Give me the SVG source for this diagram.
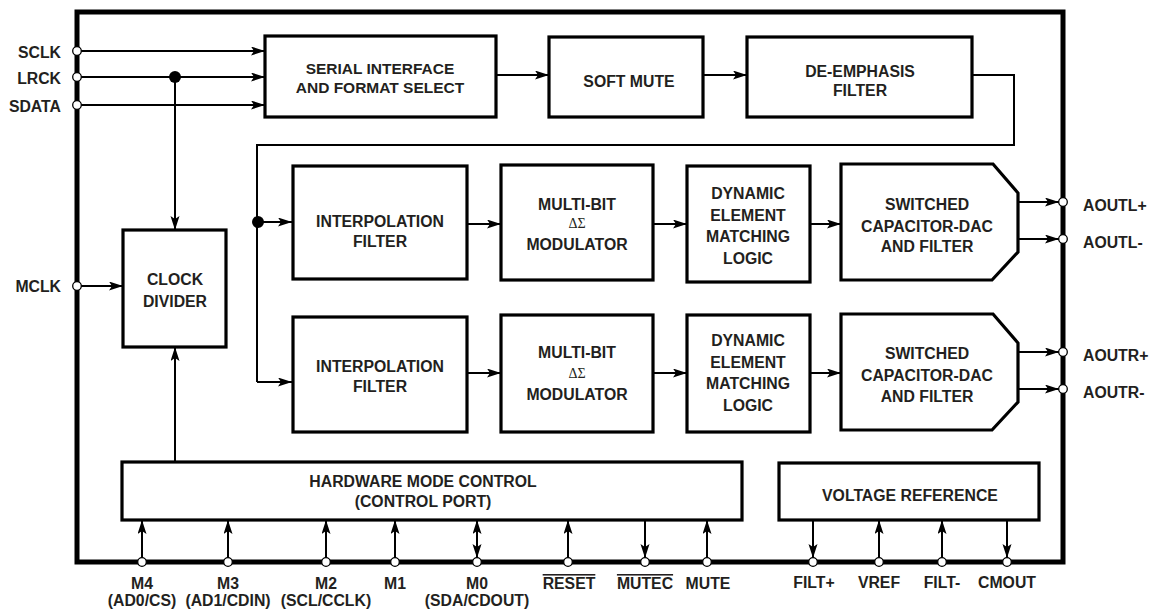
<svg xmlns="http://www.w3.org/2000/svg" width="1150" height="609" viewBox="0 0 1150 609">
<style>
text{font-family:"Liberation Sans",Arial,sans-serif;font-weight:bold;font-size:15.8px;fill:#231f20;}
.c{text-anchor:middle;}
.e{text-anchor:end;}
.box{fill:#fff;stroke:#000;stroke-width:3.2;}
.ln{fill:none;stroke:#000;stroke-width:2;}
.ar{fill:none;stroke:#000;stroke-width:2;marker-end:url(#ah);}
.pin{fill:#fff;stroke:#000;stroke-width:1.3;}
.sig{font-family:"Liberation Serif","Times New Roman",serif;font-weight:normal;font-size:14px;}
</style>
<defs>
<marker id="ah" markerUnits="userSpaceOnUse" markerWidth="16" markerHeight="10" refX="14" refY="4.5" orient="auto-start-reverse">
<path d="M0,0 L14,4.5 L0,9 L3,4.5 z" fill="#000"/>
</marker>
</defs>
<rect width="1150" height="609" fill="#fff"/>
<rect id="chip" x="77" y="12" width="986" height="550" fill="none" stroke="#000" stroke-width="5"/>

<g id="connectors">
<line class="ar" x1="81" y1="51" x2="265" y2="51"/>
<line class="ar" x1="81" y1="77" x2="265" y2="77"/>
<line class="ar" x1="81" y1="105" x2="265" y2="105"/>
<line class="ar" x1="175" y1="77" x2="175" y2="230"/>
<circle cx="175" cy="77" r="6" fill="#000"/>
<line class="ar" x1="81" y1="286" x2="123" y2="286"/>
<line class="ar" x1="175" y1="462" x2="175" y2="347"/>
<line class="ar" x1="496" y1="75" x2="549" y2="75"/>
<line class="ar" x1="703" y1="75" x2="747" y2="75"/>
<polyline class="ln" points="972,75 1014,75 1014,145 257,145 257,382"/>
<line class="ar" x1="257" y1="222" x2="292" y2="222"/>
<line class="ar" x1="257" y1="382" x2="292" y2="382"/>
<circle cx="258" cy="222" r="6" fill="#000"/>
<line class="ar" x1="467" y1="224" x2="501" y2="224"/>
<line class="ar" x1="653" y1="224" x2="687" y2="224"/>
<line class="ar" x1="810" y1="224" x2="841" y2="224"/>
<line class="ar" x1="467" y1="373" x2="501" y2="373"/>
<line class="ar" x1="653" y1="373" x2="687" y2="373"/>
<line class="ar" x1="810" y1="373" x2="841" y2="373"/>
<line class="ar" x1="1018" y1="202" x2="1059" y2="202"/>
<line class="ar" x1="1018" y1="239" x2="1059" y2="239"/>
<line class="ar" x1="1018" y1="352" x2="1059" y2="352"/>
<line class="ar" x1="1018" y1="389" x2="1059" y2="389"/>
<line class="ar" x1="142" y1="558" x2="142" y2="520"/>
<line class="ar" x1="228" y1="558" x2="228" y2="520"/>
<line class="ar" x1="326" y1="558" x2="326" y2="520"/>
<line class="ar" x1="395" y1="558" x2="395" y2="520"/>
<line class="ar" x1="477" y1="558" x2="477" y2="520" style="marker-start:url(#ah)"/>
<line class="ar" x1="568" y1="558" x2="568" y2="520"/>
<line class="ar" x1="645" y1="520" x2="645" y2="558"/>
<line class="ar" x1="707" y1="558" x2="707" y2="520"/>
<line class="ar" x1="813" y1="520" x2="813" y2="558"/>
<line class="ar" x1="879" y1="558" x2="879" y2="520"/>
<line class="ar" x1="942" y1="558" x2="942" y2="520"/>
<line class="ar" x1="1007" y1="520" x2="1007" y2="558"/>
</g>

<g id="serial"><rect class="box" x="265" y="36" width="231" height="81"/><text class="c" x="380" y="74" style="font-size:15.5px">SERIAL INTERFACE</text><text class="c" x="380" y="93" style="font-size:15.5px">AND FORMAT SELECT</text></g>
<g id="softmute"><rect class="box" x="549" y="37" width="154" height="80"/><text class="c" x="629" y="87">SOFT MUTE</text></g>
<g id="deemph"><rect class="box" x="747" y="37" width="225" height="80"/><text class="c" x="860" y="77">DE-EMPHASIS</text><text class="c" x="860" y="96">FILTER</text></g>
<g id="clockdiv"><rect class="box" x="123" y="230" width="103" height="117"/><text class="c" x="175" y="285">CLOCK</text><text class="c" x="175" y="307">DIVIDER</text></g>

<g id="interpL"><rect class="box" x="293" y="166" width="174" height="113"/><text class="c" x="380" y="227">INTERPOLATION</text><text class="c" x="380" y="247">FILTER</text></g>
<g id="modL"><rect class="box" x="501" y="165" width="152" height="115"/><text class="c" x="577" y="210">MULTI-BIT</text><text class="c sig" x="577" y="228">ΔΣ</text><text class="c" x="577" y="250">MODULATOR</text></g>
<g id="demL"><rect class="box" x="687" y="166" width="123" height="116"/><text class="c" x="748" y="199">DYNAMIC</text><text class="c" x="748" y="221">ELEMENT</text><text class="c" x="748" y="242">MATCHING</text><text class="c" x="748" y="264">LOGIC</text></g>
<g id="dacL"><polygon class="box" points="841,164 993,164 1018,193 1018,252 992,280 841,280"/><text class="c" x="927" y="210">SWITCHED</text><text class="c" x="927" y="232">CAPACITOR-DAC</text><text class="c" x="927" y="252">AND FILTER</text></g>

<g id="interpR"><rect class="box" x="293" y="317" width="174" height="115"/><text class="c" x="380" y="372">INTERPOLATION</text><text class="c" x="380" y="392">FILTER</text></g>
<g id="modR"><rect class="box" x="501" y="315" width="152" height="117"/><text class="c" x="577" y="358">MULTI-BIT</text><text class="c sig" x="577" y="378">ΔΣ</text><text class="c" x="577" y="400">MODULATOR</text></g>
<g id="demR"><rect class="box" x="687" y="315" width="123" height="117"/><text class="c" x="748" y="346">DYNAMIC</text><text class="c" x="748" y="368">ELEMENT</text><text class="c" x="748" y="389">MATCHING</text><text class="c" x="748" y="411">LOGIC</text></g>
<g id="dacR"><polygon class="box" points="841,314 993,314 1018,343 1018,402 992,430 841,430"/><text class="c" x="927" y="359">SWITCHED</text><text class="c" x="927" y="381">CAPACITOR-DAC</text><text class="c" x="927" y="402">AND FILTER</text></g>

<g id="hwmode"><rect class="box" x="122" y="462" width="620" height="58"/><text class="c" x="423" y="487">HARDWARE MODE CONTROL</text><text class="c" x="423" y="507">(CONTROL PORT)</text></g>
<g id="vref"><rect class="box" x="779" y="463" width="260" height="57"/><text class="c" x="910" y="501">VOLTAGE REFERENCE</text></g>

<g id="pins">
<circle class="pin" cx="77" cy="51" r="4.3"/>
<circle class="pin" cx="77" cy="77" r="4.3"/>
<circle class="pin" cx="77" cy="105" r="4.3"/>
<circle class="pin" cx="77" cy="286" r="4.3"/>
<circle class="pin" cx="1063" cy="202" r="4.3"/>
<circle class="pin" cx="1063" cy="239" r="4.3"/>
<circle class="pin" cx="1063" cy="352" r="4.3"/>
<circle class="pin" cx="1063" cy="389" r="4.3"/>
<circle class="pin" cx="142" cy="562" r="4.3"/>
<circle class="pin" cx="228" cy="562" r="4.3"/>
<circle class="pin" cx="326" cy="562" r="4.3"/>
<circle class="pin" cx="395" cy="562" r="4.3"/>
<circle class="pin" cx="477" cy="562" r="4.3"/>
<circle class="pin" cx="568" cy="562" r="4.3"/>
<circle class="pin" cx="645" cy="562" r="4.3"/>
<circle class="pin" cx="707" cy="562" r="4.3"/>
<circle class="pin" cx="813" cy="562" r="4.3"/>
<circle class="pin" cx="879" cy="562" r="4.3"/>
<circle class="pin" cx="942" cy="562" r="4.3"/>
<circle class="pin" cx="1007" cy="562" r="4.3"/>
</g>

<g id="pin-labels">
<text class="e" x="61" y="58">SCLK</text>
<text class="e" x="61" y="84">LRCK</text>
<text class="e" x="61" y="112">SDATA</text>
<text class="e" x="61" y="292">MCLK</text>
<text x="1083" y="211">AOUTL+</text>
<text x="1083" y="248">AOUTL-</text>
<text x="1083" y="361">AOUTR+</text>
<text x="1083" y="398">AOUTR-</text>
<text class="c" x="142" y="589">M4</text><text class="c" x="142" y="606">(AD0/CS)</text>
<text class="c" x="228" y="589">M3</text><text class="c" x="228" y="606">(AD1/CDIN)</text>
<text class="c" x="326" y="589">M2</text><text class="c" x="326" y="606">(SCL/CCLK)</text>
<text class="c" x="395" y="589">M1</text>
<text class="c" x="477" y="589">M0</text><text class="c" x="477" y="606">(SDA/CDOUT)</text>
<text class="c" x="569" y="589" text-decoration="overline">RESET</text>
<text class="c" x="645" y="589" text-decoration="overline">MUTEC</text>
<text class="c" x="708" y="589">MUTE</text>
<text class="c" x="814" y="588">FILT+</text>
<text class="c" x="879" y="588">VREF</text>
<text class="c" x="942" y="588">FILT-</text>
<text class="c" x="1007" y="588">CMOUT</text>
</g>
</svg>
